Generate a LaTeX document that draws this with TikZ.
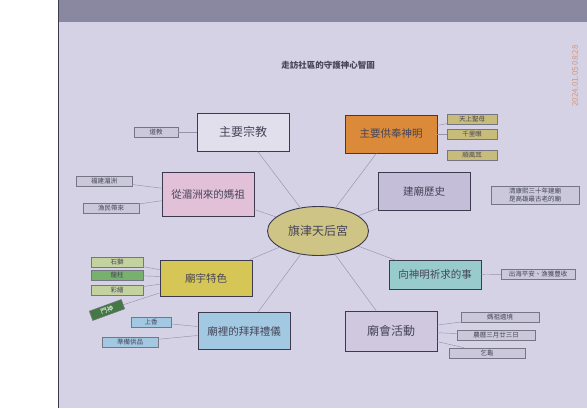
\documentclass[tikz,border=0pt]{standalone}
\usepackage{fontspec}
\newfontfamily\cjk{Noto Sans CJK TC}
\usetikzlibrary{positioning,shapes.geometric}

\definecolor{paper}{RGB}{214,210,230}
\definecolor{band}{RGB}{138,136,160}
\definecolor{ink}{RGB}{70,68,88}
\definecolor{boxline}{RGB}{60,58,78}
\definecolor{spokeline}{RGB}{150,146,172}
\definecolor{notefill}{RGB}{202,200,218}
\definecolor{stampcol}{RGB}{214,150,120}

\begin{document}
\begin{tikzpicture}[x=1pt, y=-1pt, font=\cjk,
    topic/.style={draw=boxline, line width=0.8pt, minimum width=92pt, minimum height=38pt,
        inner sep=2pt, text=ink, font=\cjk\fontsize{10.5}{12}\selectfont},
    note/.style={draw=boxline!70, line width=0.5pt, fill=notefill, inner sep=2pt,
        text=ink, font=\cjk\fontsize{6.5}{8}\selectfont},
    spoke/.style={draw=spokeline, line width=0.45pt}]
    \useasboundingbox (0,0) rectangle (587,408);

    % photo background
    \fill[white] (0,0) rectangle (587,408);
    \fill[paper] (58,0) rectangle (587,408);
    \fill[band] (58,0) rectangle (587,22);
    \draw[boxline, line width=0.6pt] (58,0) -- (58,408);
    \node[rotate=90, text=stampcol, font=\cjk\fontsize{8}{9}\selectfont] (stamp) at (575,76) {2024.01.05 08:28};

    \node[text=ink, font=\cjk\bfseries\fontsize{8.5}{10}\selectfont] (title) at (328,65) {走訪社區的守護神心智圖};

    % center
    \node[ellipse, draw=boxline, line width=0.9pt, fill={rgb,255:red,206;green,196;blue,134},
        minimum width=101pt, minimum height=49pt, text=ink,
        font=\cjk\fontsize{12}{14}\selectfont] (hub) at (318,231) {旗津天后宮};

    % topics
    \node[topic, font=\cjk\fontsize{12}{14}\selectfont, fill=paper!70!white] (religion) at (243,132) {主要宗教};
    \node[topic, fill={rgb,255:red,218;green,138;blue,56}] (deity) at (391,134) {主要供奉神明};
    \node[topic, minimum height=44pt, fill={rgb,255:red,226;green,192;blue,216}] (origin) at (208,194) {從湄洲來的媽祖};
    \node[topic, fill={rgb,255:red,196;green,190;blue,216}] (history) at (424,191) {建廟歷史};
    \node[topic, minimum height=36pt, fill={rgb,255:red,214;green,198;blue,86}] (feature) at (206,278) {廟宇特色};
    \node[topic, minimum height=29pt, fill={rgb,255:red,152;green,204;blue,204}] (wish) at (435,275) {向神明祈求的事};
    \node[topic, minimum height=37pt, fill={rgb,255:red,162;green,200;blue,226}] (rite) at (244,331) {廟裡的拜拜禮儀};
    \node[topic, minimum height=40pt, font=\cjk\fontsize{12}{14}\selectfont, fill={rgb,255:red,208;green,200;blue,222}] (fair) at (391,331) {廟會活動};

    \foreach \t in {religion, deity, origin, history, feature, wish, rite, fair}
        \draw[spoke] (hub) -- (\t);

    % notes
    \node[note, minimum width=44pt] (dao) at (156,132) {道教};
    \draw[spoke] (dao) -- (religion);

    \foreach \n/\y/\txt in {a/119/天上聖母, b/134/千里眼, c/155/順風耳}
        \node[note, fill={rgb,255:red,200;green,188;blue,122}, minimum width=50pt] (deity\n) at (472,\y) {\txt};
    \draw[spoke] (deity) -- (deitya);
    \draw[spoke] (deity) -- (deityb);

    \node[note, minimum width=56pt] (origina) at (104,181) {福建湄洲};
    \node[note, minimum width=56pt] (originb) at (111,208) {漁民帶來};
    \draw[spoke] (origina) -- (origin);
    \draw[spoke] (originb) -- (origin);

    \node[note, align=left, minimum width=88pt] (historya) at (535,195) {清康熙三十年建廟\\是高雄最古老的廟};

    \foreach \n/\y/\txt/\c in {a/262/石獅/{rgb,255:red,196;green,210;blue,160}, b/275/龍柱/{rgb,255:red,120;green,176;blue,110}, c/290/彩繪/{rgb,255:red,196;green,210;blue,160}}
        \node[note, fill=\c, minimum width=52pt] (feature\n) at (117,\y) {\txt};
    \node[note, fill={rgb,255:red,70;green,120;blue,70}, text=white, rotate=20, minimum width=34pt] (featured) at (107,310) {門神};
    \foreach \n in {a, b, c, d}
        \draw[spoke] (feature\n) -- (feature);

    \node[note, minimum width=74pt] (wisha) at (538,274) {出海平安、漁獲豐收};
    \draw[spoke] (wish) -- (wisha);

    \node[note, fill={rgb,255:red,162;green,200;blue,226}, minimum width=40pt] (ritea) at (151,322) {上香};
    \node[note, fill={rgb,255:red,162;green,200;blue,226}, minimum width=56pt] (riteb) at (130,342) {準備供品};
    \draw[spoke] (ritea) -- (rite);
    \draw[spoke] (riteb) -- (rite);

    \node[note, minimum width=78pt] (faira) at (500,317) {媽祖遶境};
    \node[note, minimum width=78pt] (fairb) at (496,335) {農曆三月廿三日};
    \node[note, minimum width=76pt] (fairc) at (487,353) {乞龜};
    \foreach \n in {a, b, c}
        \draw[spoke] (fair) -- (fair\n);
\end{tikzpicture}
\end{document}
